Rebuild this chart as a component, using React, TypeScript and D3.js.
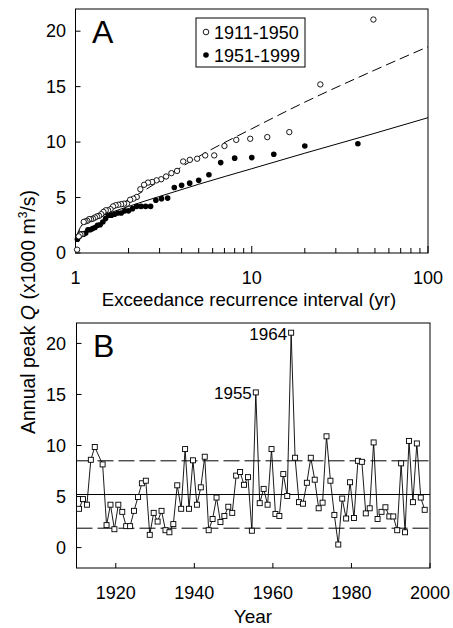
import React from "react";
import * as d3 from "d3";

const W = 453;
const H = 628;
const FONT = "'Liberation Sans', Arial, sans-serif";

// annual peak series (x1000 m3/s)
const years = [
  1910, 1911, 1912, 1913, 1914, 1916, 1917, 1918, 1919, 1920, 1921, 1922, 1923, 1924, 1925,
  1926, 1927, 1928, 1929, 1930, 1931, 1932, 1933, 1934, 1935, 1936, 1937, 1938, 1939, 1940,
  1941, 1942, 1943, 1944, 1945, 1946, 1947, 1948, 1949, 1950, 1951, 1952, 1953, 1954, 1955,
  1956, 1957, 1958, 1959, 1960, 1961, 1962, 1963, 1964, 1965, 1966, 1967, 1968, 1969, 1970,
  1971, 1972, 1973, 1974, 1975, 1976, 1977, 1978, 1979, 1980, 1981, 1982, 1983, 1984, 1985,
  1986, 1987, 1988, 1989, 1990, 1991, 1992, 1993, 1994, 1995, 1996, 1997, 1998,
];
const peaks = [
  3.8, 4.75, 4.2, 8.6, 9.85, 8.15, 2.2, 4.2, 1.8, 4.2, 3.5, 2.1, 2.1, 3.6, 4.95,
  6.3, 6.55, 1.25, 3.4, 2.55, 3.6, 1.7, 1.5, 2.3, 6.1, 3.8, 9.65, 3.8, 8.55, 4.2,
  5.9, 8.9, 1.7, 2.8, 4.9, 2.5, 3.1, 4.0, 3.4, 7.05, 7.4, 6.15, 6.9, 1.65, 15.2,
  4.35, 5.75, 4.2, 9.65, 3.3, 3.1, 7.2, 5.05, 21.05, 8.8, 4.45, 4.3, 6.35, 8.8, 6.65,
  3.85, 4.4, 10.9, 6.55, 3.2, 0.3, 4.8, 2.85, 6.4, 2.9, 8.5, 8.4, 3.35, 3.85, 10.3,
  2.8, 3.5, 3.95, 3.05, 3.05, 1.7, 8.25, 1.5, 10.45, 4.45, 10.2, 4.9, 3.7,
];
const labelled = [1955, 1964];

// mean and +/- lines in panel B
const meanQ = 5.2;
const bandQ = [1.9, 8.5];

// fitted frequency curves in panel A
const fitT = [1.01, 1.1, 1.5, 2, 3, 5, 10, 20, 50, 100];
const fitDashed = [1.2, 2.6, 3.8, 4.8, 6.5, 8.7, 11.2, 13.6, 16.5, 18.6];
const fitSolid = [1.5, 2.6, 3.5, 4.2, 5.1, 6.2, 7.6, 9.0, 10.8, 12.2];

const legendLabels = ["1911-1950", "1951-1999"];
const qTicks = [0, 5, 10, 15, 20];
const tMajor = [1, 10, 100];
const tMinor = [2, 3, 4, 5, 6, 7, 8, 9, 20, 30, 40, 50, 60, 70, 80, 90];
const yearTicks = [1920, 1940, 1960, 1980, 2000];

// peaks plot at mid-year
const yearShift = 0.65;

// Weibull plotting position T = (n+1)/rank
function positions(vals: number[]) {
  const s = [...vals].sort((a, b) => b - a);
  return s.map((q, i) => ({ T: (s.length + 1) / (i + 1), q }));
}

const openPts = positions(peaks.filter((_, i) => years[i] >= 1951));
const filledPts = positions(peaks.filter((_, i) => years[i] >= 1911 && years[i] <= 1950));

const A = { left: 75.5, right: 428, top: 9, bottom: 253 };
const B = { left: 76.5, right: 430, top: 323, bottom: 568 };

const xA = d3.scaleLog().domain([1, 100]).range([A.left, A.right]);
const yA = d3.scaleLinear().domain([0, 22]).range([A.bottom, A.top]);
const xB = d3.scaleLinear().domain([1910, 2000]).range([B.left, B.right]);
const yB = d3.scaleLinear().domain([-2, 22]).range([B.bottom, B.top]);

export default function App() {
  const dashedPath = d3
    .line<number>()
    .x((_, i) => xA(fitT[i]))
    .y((d) => yA(d))
    .curve(d3.curveMonotoneX)(fitDashed) as string;
  const solidPath = d3
    .line<number>()
    .x((_, i) => xA(fitT[i]))
    .y((d) => yA(d))
    .curve(d3.curveMonotoneX)(fitSolid) as string;
  const seriesPath = d3
    .line<number>()
    .x((_, i) => xB(years[i] + yearShift))
    .y((d) => yB(d))(peaks) as string;

  const tick = { stroke: "#000", strokeWidth: 1 };
  const txt = { fontFamily: FONT, fontSize: 18, fill: "#000" };

  return (
    <svg width={W} height={H} style={{ position: "absolute", left: 0, top: 0, background: "#fff" }}>
      <rect width={W} height={H} fill="#fff" />

      {/* ---------- panel A ---------- */}
      <rect x={A.left} y={A.top} width={A.right - A.left} height={A.bottom - A.top} fill="none" stroke="#000" strokeWidth={1} />
      {qTicks.map((t) => (
        <g key={"qa" + t}>
          <line x1={A.left} x2={A.left + 5} y1={yA(t)} y2={yA(t)} {...tick} />
          <text x={66} y={yA(t)} dy="0.35em" textAnchor="end" {...txt}>{t}</text>
        </g>
      ))}
      {tMajor.map((t) => (
        <g key={"ta" + t}>
          <line x1={xA(t)} x2={xA(t)} y1={A.bottom} y2={A.bottom - 7} {...tick} />
          <text x={xA(t)} y={284} textAnchor="middle" {...txt}>{t}</text>
        </g>
      ))}
      {tMinor.map((t) => (
        <line key={"tm" + t} x1={xA(t)} x2={xA(t)} y1={A.bottom} y2={A.bottom - 5} {...tick} />
      ))}
      <text x={249} y={306} textAnchor="middle" {...txt} fontSize={18.6}>
        Exceedance recurrence interval (yr)
      </text>
      <text x={92} y={43} fontFamily={FONT} fontSize={32}>A</text>

      <path d={dashedPath} fill="none" stroke="#000" strokeWidth={1} strokeDasharray="10,5" />
      <path d={solidPath} fill="none" stroke="#000" strokeWidth={1} />

      {filledPts.map((p, i) => (
        <circle key={"f" + i} cx={xA(p.T)} cy={yA(p.q)} r={2.8} fill="#000" />
      ))}
      {openPts.map((p, i) => (
        <circle key={"o" + i} cx={xA(p.T)} cy={yA(p.q)} r={2.7} fill="#fff" stroke="#000" strokeWidth={0.9} />
      ))}

      <rect x={196} y={18} width={109} height={49} fill="#fff" stroke="#000" strokeWidth={1} />
      <circle cx={206} cy={32} r={2.8} fill="#fff" stroke="#000" strokeWidth={0.9} />
      <circle cx={206} cy={55} r={2.8} fill="#000" />
      <text x={214} y={38.5} {...txt}>{legendLabels[0]}</text>
      <text x={214} y={61.5} {...txt}>{legendLabels[1]}</text>

      {/* ---------- panel B ---------- */}
      <rect x={B.left} y={B.top} width={B.right - B.left} height={B.bottom - B.top} fill="none" stroke="#000" strokeWidth={1} />
      {qTicks.map((t) => (
        <g key={"qb" + t}>
          <line x1={B.left} x2={B.left + 5} y1={yB(t)} y2={yB(t)} {...tick} />
          <text x={66} y={yB(t)} dy="0.35em" textAnchor="end" {...txt}>{t}</text>
        </g>
      ))}
      {yearTicks.map((t) => (
        <g key={"yb" + t}>
          <line x1={xB(t)} x2={xB(t)} y1={B.bottom} y2={B.bottom - 5} {...tick} />
          <text x={xB(t)} y={599} textAnchor="middle" {...txt}>{t}</text>
        </g>
      ))}
      <text x={253} y={623} textAnchor="middle" {...txt} fontSize={19}>Year</text>
      <text x={93} y={357} fontFamily={FONT} fontSize={32}>B</text>

      <line x1={B.left} x2={B.right} y1={yB(meanQ)} y2={yB(meanQ)} stroke="#000" strokeWidth={1} />
      {bandQ.map((q) => (
        <line key={"band" + q} x1={B.left} x2={B.right} y1={yB(q)} y2={yB(q)} stroke="#000" strokeWidth={1} strokeDasharray="16,5" />
      ))}

      <path d={seriesPath} fill="none" stroke="#000" strokeWidth={0.9} />
      {peaks.map((q, i) => (
        <rect key={"s" + i} x={xB(years[i] + yearShift) - 2.5} y={yB(q) - 2.5} width={5} height={5} fill="#fff" stroke="#000" strokeWidth={0.9} />
      ))}
      {labelled.map((yr) => {
        const i = years.indexOf(yr);
        return (
          <text key={"lab" + yr} x={xB(yr + yearShift) - 4} y={yB(peaks[i]) + 7} textAnchor="end" {...txt} fontSize={17}>
            {yr}
          </text>
        );
      })}

      {/* shared y title */}
      <text transform="translate(35,312) rotate(-90)" textAnchor="middle" {...txt} fontSize={19.5}>
        Annual peak <tspan fontStyle="italic">Q</tspan> (x1000 m
        <tspan fontSize={12} dy={-8}>3</tspan>
        <tspan dy={8}>/s)</tspan>
      </text>
    </svg>
  );
}
